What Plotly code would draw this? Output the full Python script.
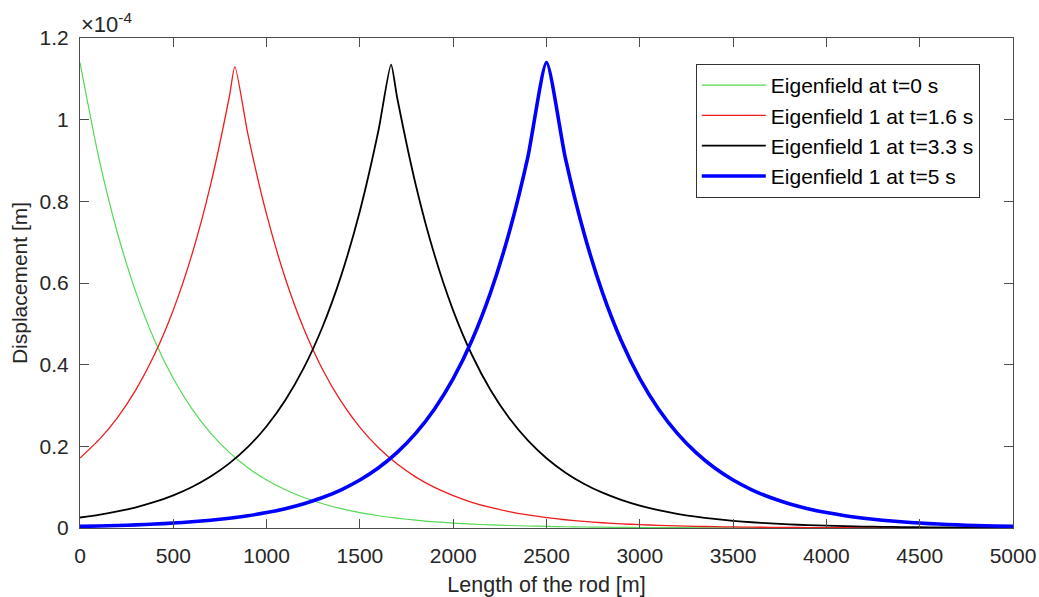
import plotly.graph_objects as go

# Values in units of 1e-4 m
green_x = [0, 100, 200, 300, 400, 500, 600, 700, 800, 900, 1000, 1100, 1200, 1300, 1400, 1500,
           1600, 1700, 1800, 1900, 2000, 2100, 2200, 2300, 2400, 2500, 2600, 2700, 2800, 2900,
           3000, 3100, 3200, 3500, 4000, 4500, 5000]
green_y = [1.14, 0.90825, 0.72362, 0.57651, 0.45932, 0.36594, 0.29156, 0.23229, 0.18507, 0.14745,
           0.11747, 0.09359, 0.07457, 0.05941, 0.04733, 0.03771, 0.03004, 0.02394, 0.01907, 0.01519,
           0.01211, 0.00964, 0.00768, 0.00612, 0.00488, 0.00389, 0.00310, 0.00247, 0.00197, 0.00157,
           0.00125, 0.00099, 0.00079, 0.0004, 0.00013, 0.00004, 0.00001]

red_x = [0, 100, 200, 300, 400, 500, 600, 700, 800, 830, 900, 1000, 1100, 1200, 1300, 1400, 1500,
         1600, 1700, 1800, 1900, 2000, 2100, 2200, 2300, 2400, 2500, 2600, 2700, 2800, 2900,
         3000, 3100, 3200, 3300, 3400, 3500, 3600, 3700, 3800, 3900, 4000, 4200, 4500, 5000]
red_y = [0.17135, 0.21507, 0.26994, 0.33882, 0.42528, 0.53379, 0.66999, 0.84094, 1.0555, 1.13,
         0.96380, 0.76787, 0.61177, 0.48740, 0.38832, 0.30938, 0.24649, 0.19638, 0.15646, 0.12465,
         0.09931, 0.07912, 0.06304, 0.05022, 0.04001, 0.03188, 0.02540, 0.02024, 0.01612, 0.01284,
         0.01023, 0.00815, 0.00650, 0.00517, 0.00412, 0.00328, 0.00262, 0.00208, 0.00166, 0.00132,
         0.00105, 0.00084, 0.00053, 0.00027, 0.00009]

black_x = [0, 100, 200, 300, 400, 500, 600, 700, 800, 900, 1000, 1100, 1200, 1300, 1400, 1500,
           1600, 1667, 1700, 1800, 1900, 2000, 2100, 2200, 2300, 2400, 2500, 2600, 2700, 2800,
           2900, 3000, 3100, 3200, 3300, 3400, 3500, 3600, 3700, 3800, 3900, 4000, 4100, 4200,
           4300, 4400, 4500, 4600, 4700, 4800, 4900, 5000]
black_y = [0.02568, 0.03224, 0.04046, 0.05079, 0.06375, 0.08001, 0.10043, 0.12606, 0.15823, 0.19860,
           0.24927, 0.31288, 0.39271, 0.49292, 0.61869, 0.77655, 0.97469, 1.135, 1.05298, 0.83892,
           0.66838, 0.53250, 0.42425, 0.33800, 0.26929, 0.21455, 0.17093, 0.13618, 0.10850, 0.08644,
           0.06887, 0.05487, 0.04371, 0.03483, 0.02775, 0.02211, 0.01761, 0.01403, 0.01118, 0.00891,
           0.00710, 0.00565, 0.00450, 0.00359, 0.00286, 0.00228, 0.00181, 0.00145, 0.00115, 0.00092,
           0.00073, 0.00058]

blue_x = [0, 100, 200, 300, 400, 500, 600, 700, 800, 900, 1000, 1100, 1200, 1300, 1400, 1500,
          1600, 1700, 1800, 1900, 2000, 2100, 2200, 2300, 2400, 2500, 2600, 2700, 2800, 2900,
          3000, 3100, 3200, 3300, 3400, 3500, 3600, 3700, 3800, 3900, 4000, 4100, 4200, 4300,
          4400, 4500, 4600, 4700, 4800, 4900, 5000]
blue_y = [0.00389, 0.00488, 0.00612, 0.00768, 0.00964, 0.01211, 0.01519, 0.01907, 0.02394, 0.03004,
          0.03771, 0.04733, 0.05941, 0.07457, 0.09359, 0.11747, 0.14745, 0.18507, 0.23229, 0.29156,
          0.36594, 0.45932, 0.57651, 0.72362, 0.90825, 1.14, 0.90825, 0.72362, 0.57651, 0.45932,
          0.36594, 0.29156, 0.23229, 0.18507, 0.14745, 0.11747, 0.09359, 0.07457, 0.05941, 0.04733,
          0.03771, 0.03004, 0.02394, 0.01907, 0.01519, 0.01211, 0.00964, 0.00768, 0.00612, 0.00488,
          0.00389]

names = ["Eigenfield at t=0 s", "Eigenfield 1 at t=1.6 s",
         "Eigenfield 1 at t=3.3 s", "Eigenfield 1 at t=5 s"]

x_ticks = [0, 500, 1000, 1500, 2000, 2500, 3000, 3500, 4000, 4500, 5000]
y_ticks = [0, 0.2, 0.4, 0.6, 0.8, 1.0, 1.2]
y_tick_text = ["0", "0.2", "0.4", "0.6", "0.8", "1", "1.2"]

FONT = "Liberation Sans, Arial, sans-serif"
TXT = "#262626"
AX = "#4d4d4d"

fig = go.Figure()
series = [
    (green_x, green_y, names[0], "#55d855", 1.2),
    (red_x, red_y, names[1], "#ee1c1c", 1.3),
    (black_x, black_y, names[2], "#000000", 1.8),
    (blue_x, blue_y, names[3], "#0000ff", 3.6),
]
for xs, ys, nm, col, w in series:
    fig.add_trace(go.Scatter(x=xs, y=ys, mode="lines", name=nm,
                             line=dict(color=col, width=w, shape="spline", smoothing=0.6)))

axis_common = dict(showline=True, linecolor=AX, linewidth=1.2, mirror="ticks",
                   ticks="inside", ticklen=9, tickcolor=AX, tickwidth=1.2,
                   showgrid=False, zeroline=False, automargin=False,
                   tickfont=dict(family=FONT, size=21, color=TXT))

fig.update_layout(
    width=1039, height=597,
    margin=dict(l=80, r=26, t=38, b=69),
    paper_bgcolor="white", plot_bgcolor="white",
    font=dict(family=FONT, color=TXT),
    xaxis=dict(range=[0, 5000], tickvals=x_ticks,
               title=dict(text="Length of the rod [m]", font=dict(family=FONT, size=21.5, color=TXT),
                          standoff=10),
               ticklabelstandoff=9, **axis_common),
    yaxis=dict(range=[0, 1.2], tickvals=y_ticks, ticktext=y_tick_text,
               title=dict(text="Displacement [m]", font=dict(family=FONT, size=21, color=TXT),
                          standoff=6),
               ticklabelstandoff=6, **axis_common),
    legend=dict(x=0.66, y=0.947, xanchor="left", yanchor="top",
                bgcolor="white", bordercolor="#333333", borderwidth=1,
                font=dict(family=FONT, size=21, color="#000000"),
                tracegroupgap=0, itemwidth=64),
    showlegend=True,
)

fig.add_annotation(x=0, y=1, xref="paper", yref="paper", xanchor="left", yanchor="bottom",
                   text="×10<sup>-4</sup>", showarrow=False, yshift=-1, xshift=-1,
                   font=dict(family=FONT, size=22, color=TXT))

fig.write_html("out.html")
